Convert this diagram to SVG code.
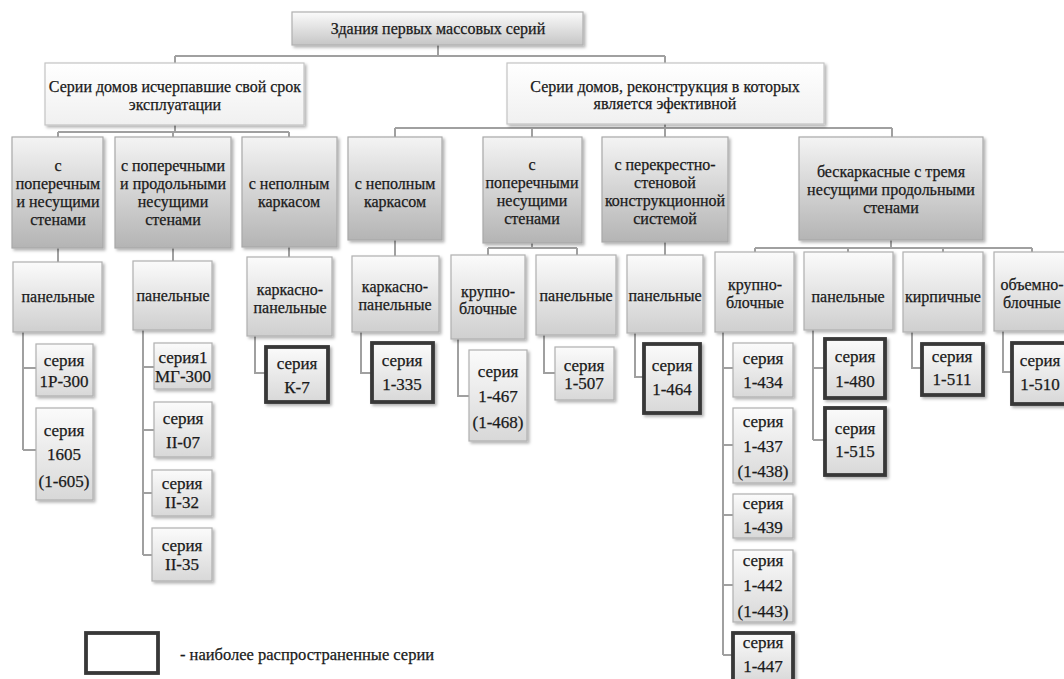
<svg xmlns="http://www.w3.org/2000/svg" width="1064" height="679" viewBox="0 0 1064 679">
<defs>
  <linearGradient id="gTop" x1="0" y1="0" x2="0" y2="1"><stop offset="0" stop-color="#fbfbfb"/><stop offset="1" stop-color="#c6c6c6"/></linearGradient>
  <linearGradient id="gL1" x1="0" y1="0" x2="0" y2="1"><stop offset="0" stop-color="#f4f4f4"/><stop offset="1" stop-color="#b4b4b4"/></linearGradient>
  <linearGradient id="gL2" x1="0" y1="0" x2="0" y2="1"><stop offset="0" stop-color="#ffffff"/><stop offset="1" stop-color="#f0f0f0"/></linearGradient>
  <linearGradient id="gL3" x1="0" y1="0" x2="0" y2="1"><stop offset="0" stop-color="#fbfbfb"/><stop offset="1" stop-color="#cfcfcf"/></linearGradient>
  <linearGradient id="gL4" x1="0" y1="0" x2="0" y2="1"><stop offset="0" stop-color="#fbfbfb"/><stop offset="1" stop-color="#d8d8d8"/></linearGradient>
  <filter id="sh" x="-20%" y="-20%" width="140%" height="140%"><feDropShadow dx="2" dy="2" stdDeviation="1.5" flood-color="#000" flood-opacity="0.3"/></filter>
</defs>
<style>
  text { font-family: "Liberation Serif", "DejaVu Serif", serif; font-size: 16px; fill: #1a1a1a; stroke: #1a1a1a; stroke-width: 0.25; text-anchor: middle; }
  .s text { font-size: 17px; }
  .top { fill: url(#gTop); stroke: #b0b0b0; stroke-width: 1.2; filter: url(#sh); }
  .l1 { fill: url(#gL1); stroke: #a8a8a8; stroke-width: 1.2; filter: url(#sh); }
  .l2 { fill: url(#gL2); stroke: #c4c4c4; stroke-width: 1.2; filter: url(#sh); }
  .l3 { fill: url(#gL3); stroke: #b0b0b0; stroke-width: 1.2; filter: url(#sh); }
  .l4 { fill: url(#gL4); stroke: #b0b0b0; stroke-width: 1.2; filter: url(#sh); }
  .th { fill: url(#gL4); stroke: #383838; stroke-width: 3.8; filter: url(#sh); }
  .lg { fill: #ffffff; stroke: #383838; stroke-width: 3.8; }
  .c path { fill: none; stroke: #a0a0a0; stroke-width: 2; }
</style>
<rect x="0" y="0" width="1064" height="679" fill="#ffffff"/>

<g class="c" id="connectors">
  <path d="M438 45 V56 M175 56 H665 M175 56 V63 M665 56 V63"/>
  <path d="M175 125 V132 M58 132 H289 M58 132 V137 M173 132 V137 M289 132 V137"/>
  <path d="M665 124 V128 M395 128 H892 M395 128 V137 M532 128 V137 M665 128 V137 M892 128 V137"/>
  <path d="M58 248 V262 M173 248 V261 M289 247 V257"/>
  <path d="M395 240 V256"/>
  <path d="M532 243 V248 M488 248 H577 M488 248 V255 M577 248 V255"/>
  <path d="M665 242 V255"/>
  <path d="M891 240 V248 M755 248 H1032 M755 248 V252 M848 248 V252 M943 248 V252 M1032 248 V252"/>
  <path d="M23 332 V450 M23 368 H36 M23 450 H36"/>
  <path d="M143 330 V555 M143 367 H154 M143 430 H154 M143 493 H152 M143 555 H152"/>
  <path d="M255 336 V373 H266"/>
  <path d="M361 332 V373 H372"/>
  <path d="M458 339 V396 H469"/>
  <path d="M544 335 V373 H555"/>
  <path d="M635 333 V377 H644"/>
  <path d="M723 332 V655 M723 368 H733 M723 445 H733 M723 515 H733 M723 585 H733 M723 655 H733"/>
  <path d="M813 330 V440 M813 368 H825 M813 440 H825"/>
  <path d="M912 332 V368 H922"/>
  <path d="M1003 331 V372 H1012"/>
</g>

<g id="n-root"><rect class="top" x="292" y="12" width="291" height="33"/><text x="438" y="34">Здания первых массовых серий</text></g>

<g id="n-left"><rect class="l2" x="45" y="63" width="259" height="62"/><text x="175" y="92">Серии домов исчерпавшие свой срок</text><text x="175" y="110">эксплуатации</text></g>
<g id="n-right"><rect class="l2" x="507" y="63" width="317" height="61"/><text x="665" y="92">Серии домов, реконструкция в которых</text><text x="665" y="109">является эфективной</text></g>

<g id="n-l1"><rect class="l1" x="12" y="137" width="91" height="111"/><text x="58" y="171">с</text><text x="58" y="189">поперечным</text><text x="58" y="207">и несущими</text><text x="58" y="225">стенами</text></g>
<g id="n-l2"><rect class="l1" x="115" y="137" width="116" height="111"/><text x="173" y="171">с поперечными</text><text x="173" y="189">и продольными</text><text x="173" y="207">несущими</text><text x="173" y="225">стенами</text></g>
<g id="n-l3"><rect class="l1" x="242" y="137" width="95" height="110"/><text x="289" y="189">с неполным</text><text x="289" y="207">каркасом</text></g>
<g id="n-r1"><rect class="l1" x="348" y="137" width="94" height="103"/><text x="395" y="189">с неполным</text><text x="395" y="207">каркасом</text></g>
<g id="n-r2"><rect class="l1" x="483" y="137" width="99" height="106"/><text x="532" y="170">с</text><text x="532" y="188">поперечными</text><text x="532" y="206">несущими</text><text x="532" y="224">стенами</text></g>
<g id="n-r3"><rect class="l1" x="602" y="137" width="126" height="105"/><text x="665" y="170">с перекрестно-</text><text x="665" y="188">стеновой</text><text x="665" y="206">конструкционной</text><text x="665" y="224">системой</text></g>
<g id="n-r4"><rect class="l1" x="799" y="137" width="184" height="103"/><text x="891" y="177">бескаркасные с тремя</text><text x="891" y="195">несущими продольными</text><text x="891" y="213">стенами</text></g>

<g id="n-l1-p"><rect class="l3" x="13" y="262" width="89" height="70"/><text x="58" y="302">панельные</text></g>
<g id="n-l2-p"><rect class="l3" x="133" y="261" width="79" height="69"/><text x="173" y="301">панельные</text></g>
<g id="n-l3-kp"><rect class="l3" x="247" y="257" width="85" height="79"/><text x="290" y="295">каркасно-</text><text x="290" y="313">панельные</text></g>
<g id="n-r1-kp"><rect class="l3" x="352" y="256" width="87" height="76"/><text x="395" y="292">каркасно-</text><text x="395" y="310">панельные</text></g>
<g id="n-r2-kb"><rect class="l3" x="451" y="255" width="74" height="84"/><text x="488" y="297">крупно-</text><text x="488" y="314">блочные</text></g>
<g id="n-r2-p"><rect class="l3" x="536" y="255" width="80" height="80"/><text x="576" y="301">панельные</text></g>
<g id="n-r3-p"><rect class="l3" x="627" y="255" width="76" height="78"/><text x="665" y="301">панельные</text></g>
<g id="n-r4-kb"><rect class="l3" x="715" y="252" width="79" height="80"/><text x="755" y="290">крупно-</text><text x="755" y="308">блочные</text></g>
<g id="n-r4-p"><rect class="l3" x="804" y="252" width="89" height="78"/><text x="848" y="302">панельные</text></g>
<g id="n-r4-k"><rect class="l3" x="903" y="252" width="80" height="80"/><text x="943" y="302">кирпичные</text></g>
<g id="n-r4-ob"><rect class="l3" x="994" y="252" width="76" height="79"/><text x="1032" y="290">объемно-</text><text x="1032" y="308">блочные</text></g>

<g id="s-1r300" class="s"><rect class="l4" x="36" y="344" width="57" height="52"/><text x="64" y="366">серия</text><text x="64" y="387">1Р-300</text></g>
<g id="s-1605" class="s"><rect class="l4" x="36" y="408" width="57" height="92"/><text x="64" y="436">серия</text><text x="64" y="460">1605</text><text x="64" y="487">(1-605)</text></g>
<g id="s-mg300" class="s"><rect class="l4" x="154" y="343" width="58" height="46"/><text x="183" y="363">серия1</text><text x="183" y="382">МГ-300</text></g>
<g id="s-ii07" class="s"><rect class="l4" x="154" y="402" width="58" height="55"/><text x="183" y="424">серия</text><text x="183" y="448">II-07</text></g>
<g id="s-ii32" class="s"><rect class="l4" x="152" y="470" width="60" height="46"/><text x="182" y="489">серия</text><text x="182" y="508">II-32</text></g>
<g id="s-ii35" class="s"><rect class="l4" x="152" y="528" width="60" height="53"/><text x="182" y="551">серия</text><text x="182" y="570">II-35</text></g>
<g id="s-k7" class="s"><rect class="th" x="266" y="347" width="62" height="55"/><text x="297" y="369">серия</text><text x="297" y="393">К-7</text></g>
<g id="s-1335" class="s"><rect class="th" x="372" y="343" width="61" height="59"/><text x="402" y="366">серия</text><text x="402" y="390">1-335</text></g>
<g id="s-1467" class="s"><rect class="l4" x="469" y="350" width="58" height="91"/><text x="498" y="377">серия</text><text x="498" y="402">1-467</text><text x="498" y="428">(1-468)</text></g>
<g id="s-1507" class="s"><rect class="l4" x="555" y="347" width="59" height="53"/><text x="584" y="371">серия</text><text x="584" y="389">1-507</text></g>
<g id="s-1464" class="s"><rect class="th" x="644" y="344" width="56" height="69"/><text x="672" y="371">серия</text><text x="672" y="395">1-464</text></g>
<g id="s-1434" class="s"><rect class="l4" x="733" y="343" width="60" height="54"/><text x="763" y="364">серия</text><text x="763" y="388">1-434</text></g>
<g id="s-1437" class="s"><rect class="l4" x="733" y="408" width="60" height="75"/><text x="763" y="427">серия</text><text x="763" y="452">1-437</text><text x="763" y="477">(1-438)</text></g>
<g id="s-1439" class="s"><rect class="l4" x="733" y="494" width="60" height="44"/><text x="763" y="509">серия</text><text x="763" y="533">1-439</text></g>
<g id="s-1442" class="s"><rect class="l4" x="733" y="550" width="60" height="72"/><text x="763" y="566">серия</text><text x="763" y="591">1-442</text><text x="763" y="617">(1-443)</text></g>
<g id="s-1447" class="s"><rect class="th" x="733" y="633" width="60" height="50"/><text x="763" y="648">серия</text><text x="763" y="672">1-447</text></g>
<g id="s-1480" class="s"><rect class="th" x="825" y="339" width="60" height="59"/><text x="855" y="362">серия</text><text x="855" y="387">1-480</text></g>
<g id="s-1515" class="s"><rect class="th" x="825" y="408" width="60" height="67"/><text x="855" y="434">серия</text><text x="855" y="457">1-515</text></g>
<g id="s-1511" class="s"><rect class="th" x="922" y="344" width="61" height="51"/><text x="952" y="362">серия</text><text x="952" y="385">1-511</text></g>
<g id="s-1510" class="s"><rect class="th" x="1012" y="343" width="60" height="61"/><text x="1040" y="366">серия</text><text x="1040" y="390">1-510</text></g>

<g id="legend"><rect class="lg" x="86" y="633" width="72" height="40"/><text x="180" y="660" style="text-anchor:start;font-size:16.5px">- наиболее распространенные серии</text></g>
</svg>
